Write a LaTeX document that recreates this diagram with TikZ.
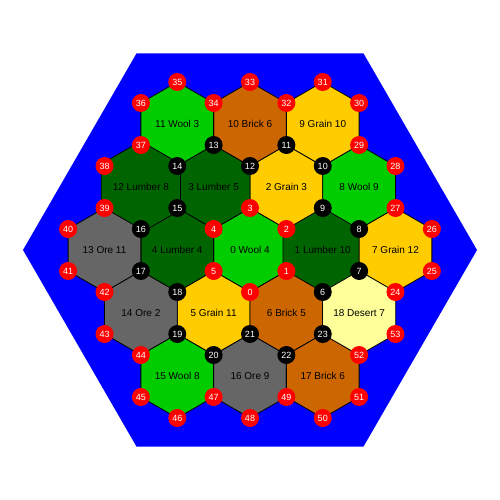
\documentclass[tikz,border=0pt]{standalone}
\usepackage{fontspec}
\setmainfont{Liberation Sans}
\usetikzlibrary{shapes.geometric}
\definecolor{wool}{HTML}{00CC00}
\definecolor{lumber}{HTML}{006400}
\definecolor{grain}{HTML}{FFCC00}
\definecolor{brick}{HTML}{CC6600}
\definecolor{ore}{HTML}{666666}
\definecolor{desert}{HTML}{FFFF99}
\definecolor{boardblue}{HTML}{0000FF}
\begin{document}
\begin{tikzpicture}[x=1pt,y=-1pt,
  hexbase/.style={regular polygon, regular polygon sides=6, draw=black, line width=0.8pt,
    inner sep=0pt, outer sep=0pt, minimum size=84pt, shape border rotate=30,
    font=\fontsize{10}{12}\selectfont},
  board/.style={regular polygon, regular polygon sides=6, fill=boardblue,
    minimum size=454pt, inner sep=0pt, outer sep=0pt},
  redspot/.style={circle, fill=red, minimum size=18pt, inner sep=0pt, text=white,
    font=\fontsize{9}{10}\selectfont},
  blackspot/.style={redspot, fill=black}]
\useasboundingbox (0,0) rectangle (500,500);
\fill[white] (0,0) rectangle (500,500);
\node[board] (board) at (250,250) {};
\foreach \n/\k/\m/\c/\lab in {
  0/0/0/wool/{0 Wool 4},
  1/2/0/lumber/{1 Lumber 10},
  2/1/-1/grain/{2 Grain 3},
  3/-1/-1/lumber/{3 Lumber 5},
  4/-2/0/lumber/{4 Lumber 4},
  5/-1/1/grain/{5 Grain 11},
  6/1/1/brick/{6 Brick 5},
  7/4/0/grain/{7 Grain 12},
  8/3/-1/wool/{8 Wool 9},
  9/2/-2/grain/{9 Grain 10},
  10/0/-2/brick/{10 Brick 6},
  11/-2/-2/wool/{11 Wool 3},
  12/-3/-1/lumber/{12 Lumber 8},
  13/-4/0/ore/{13 Ore 11},
  14/-3/1/ore/{14 Ore 2},
  15/-2/2/wool/{15 Wool 8},
  16/0/2/ore/{16 Ore 9},
  17/2/2/brick/{17 Brick 6},
  18/3/1/desert/{18 Desert 7}}
  \node[hexbase, fill=\c] (t\n) at ({250+\k*36.373},{250+\m*63}) {\lab};
\foreach \n/\k/\d in {0/0/42,1/1/21,2/1/-21,3/0/-42,4/-1/-21,5/-1/21,
  24/4/42,25/5/21,26/5/-21,27/4/-42,28/4/-84,29/3/-105,30/3/-147,31/2/-168,
  32/1/-147,33/0/-168,34/-1/-147,35/-2/-168,36/-3/-147,37/-3/-105,38/-4/-84,
  39/-4/-42,40/-5/-21,41/-5/21,42/-4/42,43/-4/84,44/-3/105,45/-3/147,46/-2/168,
  47/-1/147,48/0/168,49/1/147,50/2/168,51/3/147,52/3/105,53/4/84}
  \node[redspot] (v\n) at ({250+\k*36.373},{250+\d}) {\n};
\foreach \n/\k/\d in {6/2/42,7/3/21,8/3/-21,9/2/-42,10/2/-84,11/1/-105,
  12/0/-84,13/-1/-105,14/-2/-84,15/-2/-42,16/-3/-21,17/-3/21,18/-2/42,
  19/-2/84,20/-1/105,21/0/84,22/1/105,23/2/84}
  \node[blackspot] (v\n) at ({250+\k*36.373},{250+\d}) {\n};
\end{tikzpicture}
\end{document}
